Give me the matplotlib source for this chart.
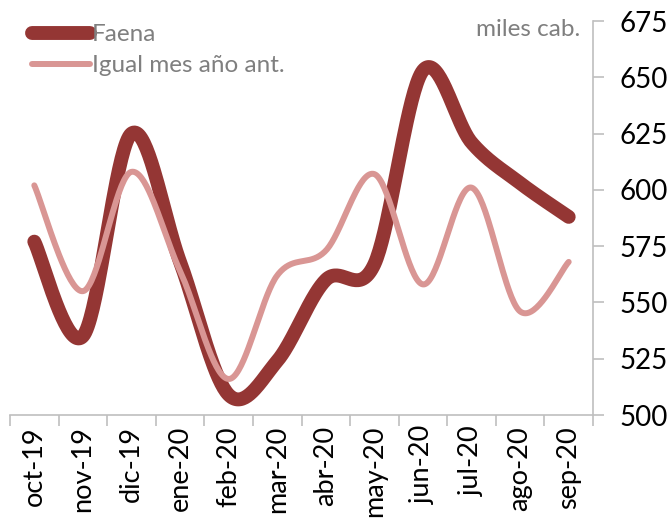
import numpy as np
import matplotlib
matplotlib.use("Agg")
import matplotlib.pyplot as plt

categories = ["oct-19", "nov-19", "dic-19", "ene-20", "feb-20", "mar-20",
              "abr-20", "may-20", "jun-20", "jul-20", "ago-20", "sep-20"]
faena = [577, 535, 625, 568, 509, 524, 560, 567, 653, 621, 603, 588]
igual_mes = [602, 555, 608, 564, 516, 562, 573, 607, 558, 601, 546, 568]

plt.rcParams['font.family'] = ['Lato', 'DejaVu Sans']


def smooth(xs, ys, n=40):
    xs = np.asarray(xs, float)
    ys = np.asarray(ys, float)
    px = np.concatenate([[xs[0]], xs, [xs[-1]]])
    py = np.concatenate([[ys[0]], ys, [ys[-1]]])
    outx, outy = [], []
    t = np.linspace(0, 1, n)
    for i in range(1, len(px) - 2):
        p0 = np.array([px[i], py[i]])
        p3 = np.array([px[i + 1], py[i + 1]])
        p1 = p0 + (np.array([px[i + 1], py[i + 1]]) - np.array([px[i - 1], py[i - 1]])) / 6
        p2 = p3 - (np.array([px[i + 2], py[i + 2]]) - np.array([px[i], py[i]])) / 6
        b = ((1 - t) ** 3)[:, None] * p0 + (3 * (1 - t) ** 2 * t)[:, None] * p1 + \
            (3 * (1 - t) * t ** 2)[:, None] * p2 + (t ** 3)[:, None] * p3
        outx.extend(b[:, 0])
        outy.extend(b[:, 1])
    return np.array(outx), np.array(outy)


fig = plt.figure(figsize=(6.72, 5.21), dpi=100)
ax = fig.add_axes([10 / 672, 1 - 415 / 521, 583 / 672, 394 / 521])

x = np.arange(len(categories))
sx, sy = smooth(x, faena)
ax.plot(sx, sy, color="#943634", lw=10, solid_capstyle="round", label="Faena", zorder=2)
sx2, sy2 = smooth(x, igual_mes)
ax.plot(sx2, sy2, color="#D99694", lw=4.3, solid_capstyle="round",
        label="Igual mes año ant.", zorder=3)

ax.set_xlim(-0.5, len(categories) - 0.5)
ax.set_ylim(500, 675)
ax.set_yticks(np.arange(500, 676, 25))
ax.yaxis.tick_right()
ax.set_xticks(x)
ax.set_xticklabels(categories, rotation=90, fontsize=19.5)
ax.set_xticks(np.arange(-0.5, len(categories)), minor=True)
ax.tick_params(axis="x", which="major", length=0, pad=8)
ax.tick_params(axis="x", which="minor", length=8, color="#bfbfbf", width=1.2)
ax.tick_params(axis="y", length=8, color="#bfbfbf", width=1.2, labelsize=20, pad=11)

for s in ["top", "left"]:
    ax.spines[s].set_visible(False)
for s in ["bottom", "right"]:
    ax.spines[s].set_color("#bfbfbf")
    ax.spines[s].set_linewidth(1.2)

leg = ax.legend(loc="upper left", bbox_to_anchor=(32 / 672, 1 - 24 / 521),
                bbox_transform=fig.transFigure, frameon=False, fontsize=17.5,
                handlelength=2.4, handletextpad=0.05, labelspacing=0.42,
                borderaxespad=0, borderpad=0)
for t in leg.get_texts():
    t.set_color("#7f7f7f")

fig.text(580 / 672, 1 - 29 / 521, "miles cab.", color="#7f7f7f", fontsize=17.5,
         ha="right", va="center")

fig.savefig("out.png", dpi=100)
